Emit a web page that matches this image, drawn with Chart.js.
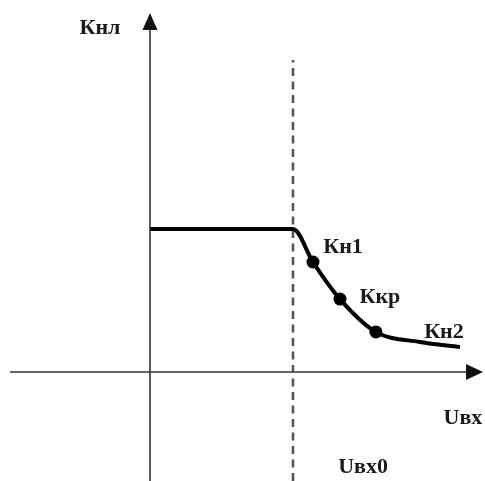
<!DOCTYPE html>
<html lang="ru">
<head>
  <meta charset="UTF-8" />
  <title>Кнл(Uвх)</title>
  <style>
    *{margin:0;padding:0;box-sizing:border-box;}
    body{background:#fff;}
    #wrap{width:485px;height:481px;position:relative;}
  </style>
</head>
<body>
  <div id="wrap"><canvas id="chart"></canvas></div>

  <script src="https://cdn.jsdelivr.net/npm/chart.js@4.4.1/dist/chart.umd.min.js"></script>
  <script>
  /* ---- data (units: Uвх0 = 1, plateau Кнл = 1) ---- */
  const curveX=[0,1,1.14,1.329,1.58,1.888,2.168];
  const curveY=[1,1,0.769,0.51,0.28,0.21,0.175];
  const markX=[1.14,1.329,1.58];
  const markY=[0.769,0.51,0.28];
  const markLabels=['Кн1','Ккр','Кн2'];
  const markLabelX=[1.35,1.608,2.056];
  const markLabelY=[0.874,0.524,0.28];
  const uvx0=1;
  const xAxisRange=[-0.979,2.329];   // horizontal axis, arrow on the right
  const yAxisRange=[-0.762,2.51];    // vertical axis, arrow on top
  const dashRange=[-0.762,2.182];
  const axisTitles=['Кнл','Uвх','Uвх0'];
  const axisTitleX=[-0.35,2.189,1.49];
  const axisTitleY=[2.406,-0.322,-0.664];
  const viewX=[-1.049,2.343];
  const viewY=[-0.762,2.601];

  const pts=(xs,ys)=>xs.map((x,i)=>({x,y:ys[i]}));

  /* arrows + text */
  const extras={
    id:'extras',
    afterDatasetsDraw(chart){
      const {ctx,scales:{x,y}}=chart;
      ctx.save();
      ctx.fillStyle='#111';
      // arrow on y axis
      const ax=x.getPixelForValue(0), ay=y.getPixelForValue(yAxisRange[1]);
      ctx.beginPath();
      ctx.moveTo(ax,ay);ctx.lineTo(ax-7.5,ay+17);ctx.lineTo(ax+7.5,ay+17);ctx.closePath();ctx.fill();
      // arrow on x axis
      const bx=x.getPixelForValue(xAxisRange[1]), by=y.getPixelForValue(0);
      ctx.beginPath();
      ctx.moveTo(bx,by);ctx.lineTo(bx-17,by-8);ctx.lineTo(bx-17,by+8);ctx.closePath();ctx.fill();

      ctx.font='bold 22px "Liberation Serif","DejaVu Serif",serif';
      ctx.textAlign='center';ctx.textBaseline='middle';
      ctx.fillStyle='#1a1a1a';
      markLabels.forEach((t,i)=>ctx.fillText(t,x.getPixelForValue(markLabelX[i]),y.getPixelForValue(markLabelY[i])));
      axisTitles.forEach((t,i)=>ctx.fillText(t,x.getPixelForValue(axisTitleX[i]),y.getPixelForValue(axisTitleY[i])));
      ctx.restore();
    }
  };

  new Chart(document.getElementById('chart'),{
    type:'scatter',
    data:{datasets:[
      {data:pts(markX,markY),pointRadius:6.5,pointBackgroundColor:'#000',pointBorderWidth:0,showLine:false,order:0},
      {data:pts(curveX,curveY),showLine:true,borderColor:'#000',borderWidth:4,pointRadius:0,
       cubicInterpolationMode:'monotone',borderJoinStyle:'round',order:1},
      {data:[{x:uvx0,y:dashRange[0]},{x:uvx0,y:dashRange[1]}],showLine:true,borderColor:'#555',borderWidth:2.6,
       borderDash:[8,5.5],pointRadius:0,order:2},
      {data:[{x:xAxisRange[0],y:0},{x:xAxisRange[1]-0.08,y:0}],showLine:true,borderColor:'#333',borderWidth:1.6,pointRadius:0,order:3},
      {data:[{x:0,y:yAxisRange[0]},{x:0,y:yAxisRange[1]-0.08}],showLine:true,borderColor:'#333',borderWidth:1.6,pointRadius:0,order:3}
    ]},
    options:{
      responsive:true,maintainAspectRatio:false,animation:false,
      layout:{padding:0,autoPadding:false},
      scales:{
        x:{type:'linear',display:false,min:viewX[0],max:viewX[1]},
        y:{type:'linear',display:false,min:viewY[0],max:viewY[1]}
      },
      plugins:{legend:{display:false},tooltip:{enabled:false}}
    },
    plugins:[extras]
  });
  </script>
</body>
</html>
